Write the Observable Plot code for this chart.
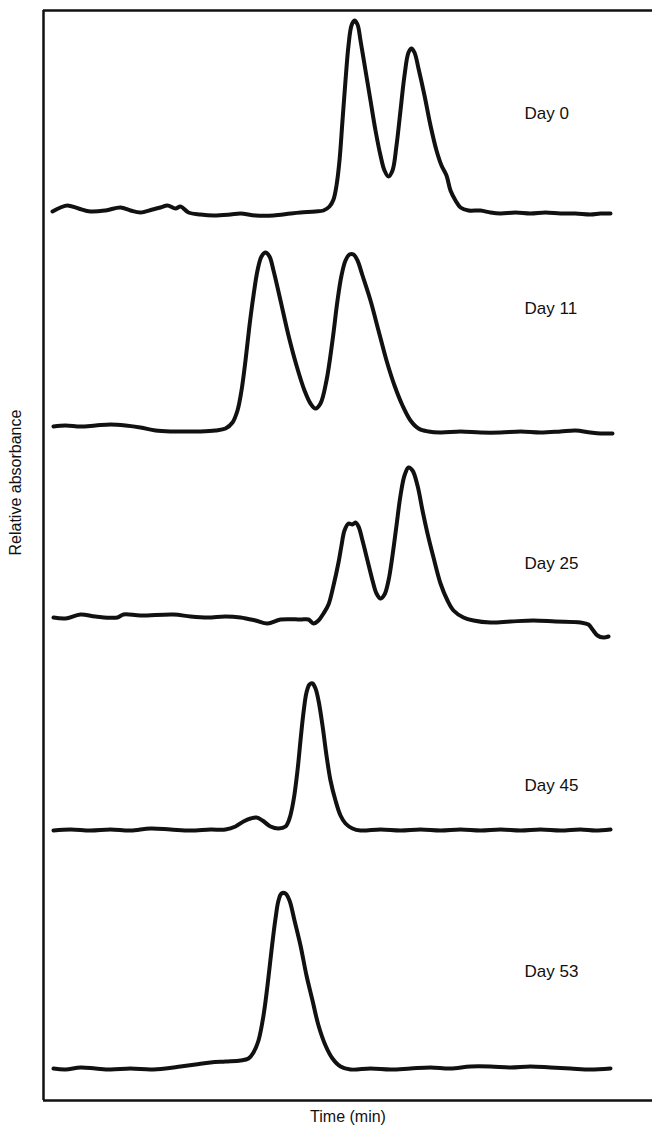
<!DOCTYPE html>
<html>
<head>
<meta charset="utf-8">
<script src="https://cdn.jsdelivr.net/npm/d3@7"></script>
<script src="https://cdn.jsdelivr.net/npm/@observablehq/plot@0.6"></script>
<style>
  html, body { margin: 0; padding: 0; background: #fff; }
  #chart { width: 652px; height: 1133px; }
</style>
</head>
<body>
<div id="chart"></div>
<script>
// Series names (days of storage)
const days = ["Day 0", "Day 11", "Day 25", "Day 45", "Day 53"];

// Vertical offset of each trace's baseline (relative absorbance units)
const offsets = [88.8, 67.3, 48.4, 27.1, 3.3];

// Each trace: [time (min), relative absorbance above its baseline]
const day0 = [
  [0.9,0.1],[1.7,0.5],[2.4,0.7],[3.5,0.4],[4.7,0.1],[6.2,0.2],[7.7,0.5],[8.7,0.2],[9.7,0.0],
  [10.9,0.3],[11.7,0.5],[12.4,0.7],[13.2,0.4],[13.7,0.6],[14.5,0.0],[15.7,-0.2],[17.0,-0.3],
  [18.7,-0.2],[19.7,-0.1],[21.2,-0.3],[23.0,-0.3],[24.7,-0.1],[25.7,0.0],[27.2,0.1],[28.0,0.2],
  [28.6,0.6],[29.0,1.3],[29.3,2.7],[29.6,5.2],[29.9,9.2],[30.2,13.2],[30.5,16.7],[30.8,18.7],
  [31.1,19.2],[31.4,18.8],[31.7,17.2],[32.2,14.2],[32.7,11.2],[33.2,8.2],[33.7,5.7],[34.1,4.2],
  [34.5,3.6],[34.9,4.2],[35.3,6.7],[35.7,10.2],[36.1,13.7],[36.5,16.0],[36.8,16.4],[37.1,16.0],
  [37.5,14.4],[38.1,11.7],[38.7,8.7],[39.3,6.2],[39.8,4.7],[40.3,3.7],[40.7,2.2],[41.2,1.2],
  [41.7,0.5],[42.5,0.2],[43.7,0.2],[44.7,0.0],[45.7,-0.1],[47.2,0.0],[48.7,-0.1],[50.2,0.0],
  [51.7,-0.1],[53.2,-0.1],[54.7,-0.2],[55.7,-0.1],[56.7,-0.1]
];
const day11 = [
  [1.0,0.1],[2.2,0.2],[3.7,0.1],[5.2,0.2],[6.7,0.3],[8.2,0.2],[9.7,0.0],[11.2,-0.3],[12.7,-0.4],
  [14.2,-0.4],[15.7,-0.4],[17.2,-0.3],[18.2,-0.1],[18.9,0.5],[19.4,1.7],[19.8,3.7],[20.2,6.7],
  [20.6,10.2],[21.0,13.2],[21.4,15.7],[21.8,17.1],[22.2,17.5],[22.6,17.1],[23.0,15.7],[23.7,12.7],
  [24.5,9.2],[25.3,6.2],[26.1,3.7],[26.7,2.4],[27.2,1.9],[27.7,2.4],[28.3,4.7],[28.9,8.7],
  [29.4,12.7],[29.8,15.2],[30.2,16.7],[30.6,17.3],[31.0,17.3],[31.4,16.7],[31.9,15.2],[32.7,12.7],
  [33.5,9.7],[34.3,6.7],[35.1,4.2],[35.9,2.2],[36.7,0.7],[37.5,-0.1],[38.5,-0.4],[39.7,-0.5],
  [41.7,-0.4],[43.7,-0.5],[45.7,-0.5],[47.7,-0.4],[49.7,-0.5],[51.7,-0.4],[53.2,-0.3],[54.7,-0.5],
  [55.7,-0.6],[56.9,-0.6]
];
const day25 = [
  [1.0,-0.1],[2.2,-0.2],[3.7,0.2],[5.2,0.0],[7.4,-0.1],[8.0,0.2],[9.7,0.1],[13.0,0.2],[14.7,0.0],
  [16.4,-0.1],[18.2,0.0],[19.7,-0.1],[21.2,-0.4],[22.4,-0.7],[23.7,-0.3],[25.7,-0.3],[26.5,-0.3],
  [27.0,-0.7],[27.5,-0.4],[28.0,0.3],[28.5,1.2],[29.0,3.1],[29.5,5.4],[29.8,7.1],[30.1,8.6],
  [30.5,9.3],[30.9,9.2],[31.2,9.4],[31.5,9.0],[31.9,7.6],[32.4,5.6],[32.9,3.6],[33.3,2.3],
  [33.7,1.8],[34.1,2.2],[34.5,3.6],[34.9,6.1],[35.3,9.1],[35.7,12.1],[36.1,14.1],[36.5,14.9],
  [36.9,14.6],[37.4,13.1],[37.9,10.6],[38.4,8.3],[39.0,5.9],[39.7,3.3],[40.4,1.6],[41.0,0.6],
  [42.0,-0.1],[43.0,-0.4],[44.7,-0.6],[46.7,-0.5],[49.0,-0.4],[51.2,-0.5],[53.7,-0.6],[54.5,-0.8],
  [54.9,-1.3],[55.4,-1.9],[56.0,-2.1],[56.5,-2.0]
];
const day45 = [
  [1.0,-0.1],[2.7,0.0],[4.7,-0.1],[6.7,0.0],[8.7,-0.1],[10.7,0.1],[12.7,0.0],[14.7,-0.1],[16.7,0.0],
  [18.2,0.0],[19.2,0.3],[20.0,0.8],[20.7,1.1],[21.3,1.2],[21.9,0.9],[22.7,0.3],[23.5,0.1],[24.2,0.3],
  [24.6,1.1],[25.0,2.9],[25.4,5.9],[25.7,8.9],[26.0,11.7],[26.3,13.7],[26.6,14.5],[26.9,14.6],
  [27.2,14.1],[27.5,12.9],[27.9,10.4],[28.3,7.4],[28.7,4.9],[29.2,2.9],[29.7,1.4],[30.2,0.6],
  [30.9,0.1],[31.7,-0.1],[33.7,0.0],[35.7,-0.1],[37.7,0.0],[39.7,-0.1],[41.7,0.0],[43.7,-0.1],
  [45.7,0.0],[47.7,-0.1],[49.7,0.0],[51.7,-0.1],[53.7,0.0],[55.2,-0.1],[56.7,0.0]
];
const day53 = [
  [1.0,-0.1],[2.2,-0.2],[3.7,0.0],[5.2,-0.1],[6.7,-0.2],[8.7,-0.1],[10.7,-0.2],[12.2,-0.1],[13.7,0.1],
  [15.2,0.3],[16.7,0.5],[18.2,0.6],[19.7,0.7],[20.5,0.9],[21.0,1.5],[21.5,2.7],[22.0,5.2],[22.4,8.2],
  [22.8,11.7],[23.2,14.9],[23.5,16.7],[23.8,17.4],[24.2,17.4],[24.6,16.7],[25.1,14.7],[25.7,12.2],
  [26.3,9.2],[26.9,6.7],[27.5,4.2],[28.2,2.2],[28.9,0.9],[29.7,0.1],[30.7,-0.2],[32.7,-0.1],
  [34.7,-0.2],[36.7,-0.1],[38.7,0.0],[40.7,-0.1],[42.7,0.1],[44.7,0.1],[46.7,0.0],[48.7,0.1],
  [50.7,0.0],[52.7,-0.1],[54.7,-0.2],[56.7,-0.1]
];
const traces = [day0, day11, day25, day45, day53];

// Label anchor: time and height above baseline for each "Day" label
const labelTime = 48.1;
const labelRise = [9.9, 11.9, 5.3, 4.4, 9.6];

const rows = [];
traces.forEach((tr, i) => {
  tr.forEach(([t, a]) => rows.push({day: days[i], t, y: offsets[i] + a}));
});
const labels = days.map((d, i) => ({day: d, t: labelTime, y: offsets[i] + labelRise[i]}));

const font = "'Liberation Sans', Arial, sans-serif";
const chart = Plot.plot({
  width: 652,
  height: 1133,
  marginLeft: 43,
  marginRight: 0,
  marginTop: 10,
  marginBottom: 33,
  style: {fontFamily: font, background: "#fff"},
  x: {domain: [0, 60.9], axis: null},
  y: {domain: [0, 109], axis: null},
  marks: [
    Plot.ruleX([0], {stroke: "#111", strokeWidth: 2.5}),
    Plot.ruleY([0, 109], {stroke: "#111", strokeWidth: 2.5}),
    Plot.line(rows, {x: "t", y: "y", z: "day", stroke: "#111", strokeWidth: 4, curve: "catmull-rom", strokeLinejoin: "round"}),
    Plot.text(labels, {x: "t", y: "y", text: "day", textAnchor: "start", fontSize: 17, fill: "#111"}),
    Plot.text(["Time (min)"], {frameAnchor: "bottom", dy: 21, fontSize: 16, fill: "#111"}),
    Plot.text(["Relative absorbance"], {frameAnchor: "left", dx: -28, rotate: -90, fontSize: 16, fill: "#111"})
  ]
});
document.getElementById("chart").appendChild(chart);
</script>
</body>
</html>
